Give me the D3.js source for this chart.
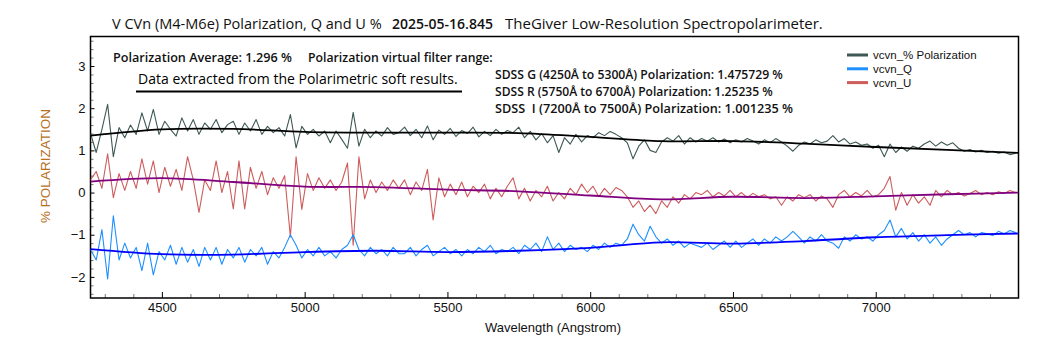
<!DOCTYPE html>
<html>
<head>
<meta charset="utf-8">
<script src="https://cdn.jsdelivr.net/npm/d3@7"></script>
<style>
  body { margin: 0; background: #fff; }
  svg { display: block; }
</style>
</head>
<body>
<div id="chart"></div>
<script>
// sampled spectrum: first wavelength and step (Angstrom)
const waveStart = 4250;
const waveStep = 20;

// % polarization, every 20 A
const polValues = [
  1.4, 0.95, 1.5, 2.09, 0.85,   1.54, 1.3, 1.6, 1.38, 1.89,
  1.46, 1.97, 1.38, 1.69, 1.5,  1.34, 1.77, 1.46, 1.73, 1.38,
  1.65, 1.5, 1.73, 1.42, 1.61,  1.69, 1.38, 1.65, 1.46, 1.73,
  1.38, 1.57, 1.42, 1.54, 1.34, 1.85, 1.06, 1.57, 1.38, 1.5,
  1.34, 1.46, 1.18, 1.46, 1.26, 1.05, 1.9, 1.1, 1.5, 1.3,
  1.46, 1.34, 1.54, 1.38, 1.42, 1.55, 1.35, 1.5, 1.3, 1.58,
  1.25, 1.48, 1.38, 1.52, 1.33, 1.47, 1.4, 1.55, 1.32, 1.45,
  1.35, 1.5, 1.38, 1.47, 1.42, 1.55, 1.3, 1.45, 1.25, 1.4,
  1.18, 1.35, 0.95, 1.3, 1.15, 1.38, 1.2, 1.35, 1.3, 1.42,
  1.35, 1.45, 1.38, 1.3, 1.18, 0.8, 1.1, 1.25, 1.0, 0.95,
  1.2, 1.3, 1.22, 1.35, 1.15,   1.3, 1.2, 1.28, 1.22, 1.3,
  1.2, 1.27, 1.18, 1.25, 1.2,   1.28, 1.22, 1.15, 1.25, 1.18,
  1.28, 1.2, 1.1, 0.98, 1.12,   1.2, 1.15, 1.25, 1.18, 1.22,
  1.35, 1.2, 1.28, 1.15, 1.2,   1.12, 1.15, 1.05, 1.12, 0.85,
  1.15, 0.95, 1.08, 0.98, 1.1,  1.05, 1.15, 1.22, 1.1, 1.2,
  1.12, 1.18, 1.05, 0.98, 1.02, 0.96, 1.0, 0.95, 0.98, 0.93,
  0.96, 0.9, 0.93
];

const qValues = [
  -1.35, -1.6, -0.88, -2.05, -0.55, -1.6, -1.2, -1.55, -1.3, -1.85,
  -1.2, -1.95, -1.4, -1.6, -1.25,   -1.7, -1.3, -1.65, -1.35, -1.75,
  -1.3, -1.6, -1.3, -1.7, -1.35,    -1.55, -1.3, -1.65, -1.35, -1.5,
  -1.3, -1.7, -1.4, -1.55, -1.3,    -1.0, -1.25, -1.55, -1.35, -1.5,
  -1.3, -1.5, -1.4, -1.55, -1.35,   -1.25, -1.0, -1.35, -1.5, -1.3,
  -1.45, -1.35, -1.5, -1.3, -1.45,  -1.45, -1.3, -1.5, -1.35, -1.25,
  -1.5, -1.4, -1.3, -1.45, -1.35,   -1.5, -1.35, -1.45, -1.3, -1.4,
  -1.25, -1.45, -1.35, -1.4, -1.3,  -1.45, -1.25, -1.35, -1.2, -1.4,
  -1.05, -1.35, -1.2, -1.4, -1.25,  -1.35, -1.3, -1.4, -1.25, -1.35,
  -1.2, -1.3, -1.2, -1.25, -1.1,    -0.75, -1.0, -1.15, -0.8, -1.05,
  -1.2, -1.1, -1.25, -1.15, -1.3,   -1.2, -1.25, -1.3, -1.2, -1.35,
  -1.25, -1.15, -1.3, -1.15, -1.3,  -1.2, -1.1, -1.25, -1.1, -1.2,
  -1.05, -1.15, -1.05, -0.92, -1.05, -1.2, -1.05, -1.15, -1.0, -1.15,
  -1.2, -1.32, -1.05, -1.15, -1.0,  -1.1, -1.05, -1.15, -1.0, -0.9,
  -0.65, -1.05, -0.85, -1.1, -0.95, -1.15, -1.0, -1.2, -1.05, -1.25,
  -1.1, -1.0, -0.9, -1.0, -0.95,    -1.05, -0.95, -0.98, -1.02, -0.92,
  -0.98, -0.9, -0.95
];

const uValues = [
  0.3, 0.5, 0.1, 0.92, -0.12,   0.45, 0.05, 0.5, 0.1, 0.8,
  0.2, 0.75, 0.0, 0.6, 0.15,    0.55, 0.05, 0.85, 0.3, -0.47,
  0.3, 0.05, 0.75, 0.0, 0.5,    -0.39, 0.75, -0.39, 0.6, 0.1,
  0.5, -0.05, 0.35, 0.1, 0.4,   -1.05, 0.85, -0.4, 0.45, 0.05,
  0.35, 0.1, 0.3, 0.05, 0.25,   0.7, -1.25, 0.85, -0.15, 0.3,
  0.0, 0.25, 0.05, 0.3, 0.1,    0.3, -0.05, 0.25, 0.05, 0.55,
  -0.65, 0.35, -0.1, 0.2, -0.05, 0.25, -0.1, 0.15, 0.0, 0.2,
  -0.15, 0.1, -0.1, 0.15, 0.35, -0.15, 0.1, -0.2, 0.05, -0.1,
  0.15, -0.2, 0.0, -0.15, 0.1,  -0.05, 0.2, 0.0, 0.15, -0.1,
  0.1, -0.05, 0.12, 0.05, -0.1, -0.35, -0.2, -0.45, -0.3, -0.5,
  -0.2, -0.35, -0.1, -0.25, -0.05, -0.15, 0.0, -0.05, 0.05, -0.1,
  0.0, -0.08, 0.05, -0.1, 0.0,  -0.12, -0.02, -0.1, -0.05, -0.15,
  -0.1, -0.3, -0.1, -0.2, -0.05, -0.12, -0.05, -0.2, -0.08, -0.15,
  -0.35, -0.05, 0.05, -0.1, 0.0, -0.08, 0.05, -0.1, -0.05, 0.1,
  0.38, -0.42, 0.0, -0.3, -0.05, -0.25, -0.1, -0.3, 0.05, -0.1,
  0.05, -0.05, 0.0, -0.08, -0.02, 0.05, -0.05, 0.0, -0.05, 0.02,
  -0.02, 0.05, 0.0
];

// smooth fitted curves
const fitWaves = [4250, 4500, 4750, 5000, 5250, 5500, 5750, 6000, 6250, 6500, 6750, 7000, 7250, 7500];
const polFit = [1.35, 1.5, 1.51, 1.44, 1.42, 1.42, 1.41, 1.32, 1.22, 1.22, 1.16, 1.08, 1.01, 0.94];
const qFit   = [-1.34, -1.46, -1.47, -1.41, -1.38, -1.41, -1.38, -1.31, -1.18, -1.21, -1.15, -1.06, -1.01, -0.97];
const uFit   = [0.26, 0.34, 0.25, 0.14, 0.13, 0.07, 0.03, -0.07, -0.16, -0.1, -0.13, -0.09, -0.04, 0.0];

const xTicks = [4500, 5000, 5500, 6000, 6500, 7000];
const yTicks = [-2, -1, 0, 1, 2, 3];
const legendNames = ["vcvn_% Polarization", "vcvn_Q", "vcvn_U"];
const filterLines = [
  "SDSS G (4250Å to 5300Å) Polarization: 1.475729 %",
  "SDSS R (5750Å to 6700Å) Polarization: 1.25235 %",
  "SDSS  I (7200Å to 7500Å) Polarization: 1.001235 %"
];

const W = 1050, H = 350;
const plotL = 90.5, plotR = 1018.5, plotT = 36.5, plotB = 298;
const colPol = "#3e5955", colQ = "#1e90ff", colU = "#cd5c5c";

const svg = d3.select("#chart").append("svg")
  .attr("width", W).attr("height", H)
  .style("font-family", "'Liberation Sans', Arial, sans-serif");

const x = d3.scaleLinear().domain([4250, 7500]).range([plotL, plotR]);
const y = d3.scaleLinear().domain([-2.5, 3.7]).range([plotB, plotT]);

// scale a text's font-size so it spans the width seen in the reference
function fitWidth(sel, w) {
  const len = sel.node().getComputedTextLength();
  const fs = parseFloat(sel.attr("font-size"));
  if (len > 0) sel.attr("font-size", (fs * w / len).toFixed(2));
  return sel;
}

svg.append("clipPath").attr("id", "plotClip")
  .append("rect").attr("x", plotL).attr("y", plotT)
  .attr("width", plotR - plotL).attr("height", plotB - plotT);

// axes, ticks drawn inward
const xMinor = d3.range(4300, 7500, 100).filter(v => v % 500 !== 0);
svg.append("g").attr("transform", `translate(0,${plotB})`)
  .call(d3.axisBottom(x).tickValues(xMinor).tickSize(-4).tickFormat(""))
  .call(g => g.select(".domain").remove())
  .selectAll("line").attr("stroke", "#777");

const xAxis = svg.append("g").attr("transform", `translate(0,${plotB})`)
  .call(d3.axisBottom(x).tickValues(xTicks).tickSize(-6).tickPadding(5).tickFormat(d3.format("d")))
  .call(g => g.select(".domain").remove());
xAxis.selectAll("text")
  .attr("font-size", 13).attr("fill", "#111")
  .style("font-family", "'Liberation Sans Narrow', 'Liberation Sans', Arial, sans-serif");

const yMinor = d3.range(-24, 37, 2).map(v => v / 10).filter(v => Math.abs(v - Math.round(v)) > 0.01);
svg.append("g").attr("transform", `translate(${plotL},0)`)
  .call(d3.axisLeft(y).tickValues(yMinor).tickSize(-3).tickFormat(""))
  .call(g => g.select(".domain").remove())
  .selectAll("line").attr("stroke", "#777");

svg.append("g").attr("transform", `translate(${plotL},0)`)
  .call(d3.axisLeft(y).tickValues(yTicks).tickSize(-4).tickPadding(5).tickFormat(d3.format("d")))
  .call(g => g.select(".domain").remove())
  .selectAll("text").attr("font-size", 13).attr("fill", "#111");

// plot frame
svg.append("rect")
  .attr("x", plotL).attr("y", plotT)
  .attr("width", plotR - plotL).attr("height", plotB - plotT)
  .attr("fill", "none").attr("stroke", "#000").attr("stroke-width", 1.5);

// data lines
const plot = svg.append("g").attr("clip-path", "url(#plotClip)");
const spectrum = d3.line()
  .x((d, i) => x(waveStart + i * waveStep))
  .y(d => y(d));

[[polValues, colPol], [uValues, colU], [qValues, colQ]].forEach(([vals, c]) => {
  plot.append("path")
    .attr("d", spectrum(vals))
    .attr("fill", "none")
    .attr("stroke", c)
    .attr("stroke-width", 1.1)
    .attr("stroke-linejoin", "round");
});

const fitLine = d3.line()
  .x((d, i) => x(fitWaves[i]))
  .y(d => y(d))
  .curve(d3.curveCatmullRom);

[[polFit, "#000"], [uFit, "#800080"], [qFit, "#0000ff"]].forEach(([vals, c]) => {
  plot.append("path")
    .attr("d", fitLine(vals))
    .attr("fill", "none")
    .attr("stroke", c)
    .attr("stroke-width", 1.8);
});

// title
const tFont = "'Open Sans', 'Noto Sans', sans-serif";
fitWidth(svg.append("text").attr("x", 112).attr("y", 29).attr("font-size", 15)
  .style("font-family", tFont).attr("fill", "#111")
  .text("V CVn (M4-M6e) Polarization, Q and U %"), 270);
fitWidth(svg.append("text").attr("x", 392).attr("y", 29).attr("font-size", 14)
  .style("font-family", tFont).attr("font-weight", 600).attr("fill", "#111")
  .text("2025-05-16.845"), 101);
fitWidth(svg.append("text").attr("x", 505).attr("y", 29).attr("font-size", 15)
  .style("font-family", tFont).attr("fill", "#111")
  .text("TheGiver Low-Resolution Spectropolarimeter."), 318);

// annotations
fitWidth(svg.append("text").attr("x", 113).attr("y", 62).attr("font-size", 12)
  .style("font-family", tFont).attr("font-weight", 600).attr("fill", "#111")
  .text("Polarization Average: 1.296 %"), 179);
fitWidth(svg.append("text").attr("x", 308).attr("y", 62).attr("font-size", 12)
  .style("font-family", tFont).attr("font-weight", 600).attr("fill", "#111")
  .text("Polarization virtual filter range:"), 185);

fitWidth(svg.append("text").attr("x", 138).attr("y", 84).attr("font-size", 14)
  .style("font-family", tFont).attr("fill", "#000")
  .text("Data extracted from the Polarimetric soft results."), 320);
svg.append("line")
  .attr("x1", 136).attr("x2", 462).attr("y1", 91.5).attr("y2", 91.5)
  .attr("stroke", "#000").attr("stroke-width", 2);

const filterWidths = [288, 278, 298];
filterLines.forEach((t, i) => {
  fitWidth(svg.append("text").attr("x", 495).attr("y", 78.5 + i * 17.3).attr("font-size", 12)
    .style("font-family", tFont).attr("font-weight", 600).attr("fill", "#111")
    .style("white-space", "pre")
    .text(t), filterWidths[i]);
});

// axis titles
svg.append("text")
  .attr("transform", `translate(50,166) rotate(-90)`)
  .attr("text-anchor", "middle")
  .attr("font-size", 13.5)
  .attr("fill", "#b8701e")
  .text("% POLARIZATION");

svg.append("text")
  .attr("x", 553).attr("y", 332)
  .attr("text-anchor", "middle")
  .attr("font-size", 13)
  .style("font-family", "'Liberation Sans Narrow', 'Liberation Sans', Arial, sans-serif")
  .attr("fill", "#111")
  .text("Wavelength (Angstrom)");

// legend
const legend = svg.append("g").attr("transform", "translate(847,55)");
[colPol, colQ, colU].forEach((c, i) => {
  legend.append("line")
    .attr("x1", 0).attr("x2", 21)
    .attr("y1", i * 13.8).attr("y2", i * 13.8)
    .attr("stroke", c).attr("stroke-width", 3);
  legend.append("text")
    .attr("x", 26).attr("y", i * 13.8 + 4)
    .attr("font-size", 11.5)
    .attr("fill", "#111")
    .text(legendNames[i]);
});
</script>
</body>
</html>
